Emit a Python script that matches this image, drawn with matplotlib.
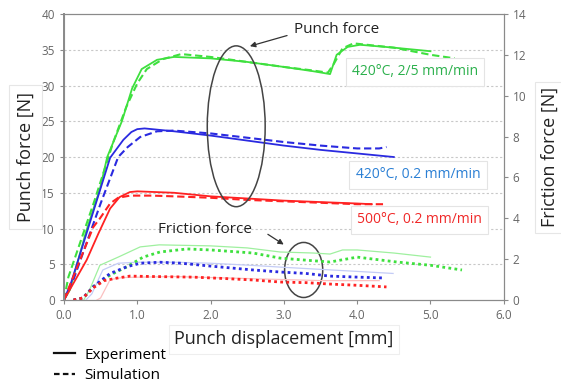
import matplotlib
matplotlib.use("Agg")
import matplotlib.pyplot as plt
from matplotlib.lines import Line2D
from matplotlib.patches import Ellipse

plt.rcParams["font.family"] = ["Open Sans", "DejaVu Sans"]

# punch force [N] vs displacement [mm] (left axis)
green_exp_x = [0, 0.08, 0.3, 0.49, 0.59, 0.79, 0.93, 1.06, 1.27, 1.5, 2.0, 2.5, 3.0, 3.4, 3.63, 3.72, 3.87, 4.04, 4.5, 5.0]
green_exp_y = [0, 1.4, 9.5, 15.5, 20, 25, 29.6, 32.3, 33.6, 34.0, 33.8, 33.3, 32.6, 32.0, 31.6, 34.3, 35.4, 35.7, 35.3, 34.8]
green_sim_x = [0, 0.06, 0.42, 0.67, 0.85, 1.0, 1.13, 1.35, 1.6, 2.0, 2.5, 3.0, 3.4, 3.6, 3.68, 3.8, 3.95, 4.5, 5.0, 5.33]
green_sim_y = [0, 3.2, 14, 22, 27, 30.3, 32.3, 33.7, 34.4, 34.0, 33.3, 32.6, 32.1, 31.8, 33.0, 35.2, 35.9, 35.3, 34.3, 33.8]

blue_exp_x = [0, 0.1, 0.49, 0.63, 0.81, 0.92, 1.0, 1.1, 1.5, 2.0, 2.5, 3.0, 3.5, 4.0, 4.5]
blue_exp_y = [0, 2.5, 15.3, 19.9, 22.4, 23.5, 23.9, 24.0, 23.6, 23.0, 22.3, 21.6, 21.0, 20.5, 20.0]
blue_sim_x = [0, 0.1, 0.5, 0.74, 0.87, 1.04, 1.27, 1.5, 2.0, 2.5, 3.0, 3.5, 4.0, 4.3, 4.4]
blue_sim_y = [0, 2.0, 13.5, 20, 21.4, 22.8, 23.6, 23.7, 23.3, 22.7, 22.1, 21.6, 21.2, 21.2, 21.4]

red_exp_x = [0, 0.31, 0.47, 0.63, 0.76, 0.9, 1.0, 1.5, 2.0, 2.5, 3.0, 3.5, 4.0, 4.2]
red_exp_y = [0, 5.6, 9.3, 12.8, 14.4, 15.1, 15.2, 15.0, 14.5, 14.2, 13.9, 13.7, 13.5, 13.4]
red_sim_x = [0, 0.4, 0.49, 0.63, 0.74, 0.9, 1.2, 1.5, 2.0, 2.5, 3.0, 3.5, 4.0, 4.38]
red_sim_y = [0, 10.2, 11.4, 13.5, 14.3, 14.6, 14.6, 14.5, 14.3, 14.0, 13.8, 13.6, 13.4, 13.4]

# friction force [N] (right axis)
green_fexp_x = [0.27, 0.35, 0.49, 0.74, 1.04, 1.3, 2.0, 2.5, 2.95, 3.4, 3.63, 3.8, 4.0, 4.5, 5.0]
green_fexp_y = [0, 0.5, 1.7, 2.1, 2.6, 2.7, 2.65, 2.55, 2.35, 2.3, 2.25, 2.45, 2.45, 2.3, 2.1]
green_fsim_x = [0.13, 0.26, 0.4, 0.63, 0.86, 1.08, 1.31, 1.68, 2.0, 2.58, 2.95, 3.3, 3.63, 4.0, 4.54, 5.0, 5.43]
green_fsim_y = [0, 0.1, 0.65, 1.22, 1.63, 2.1, 2.35, 2.5, 2.45, 2.3, 2.05, 1.95, 1.86, 2.1, 1.86, 1.7, 1.47]

blue_fexp_x = [0.3, 0.38, 0.53, 0.74, 1.0, 1.5, 2.0, 2.54, 3.0, 3.5, 4.0, 4.49]
blue_fexp_y = [0, 0.3, 1.47, 1.8, 1.85, 1.85, 1.8, 1.7, 1.6, 1.5, 1.4, 1.3]
blue_fsim_x = [0.13, 0.26, 0.4, 0.63, 0.86, 1.04, 1.31, 1.6, 2.0, 2.58, 2.95, 3.3, 3.63, 4.0, 4.35]
blue_fsim_y = [0, 0.1, 0.65, 1.3, 1.63, 1.8, 1.85, 1.8, 1.66, 1.47, 1.37, 1.3, 1.17, 1.12, 1.08]

red_fexp_x = [0.45, 0.5, 0.63, 0.8, 1.5, 2.0, 2.5, 3.0, 3.5, 4.0, 4.3]
red_fexp_y = [0, 0.1, 1.0, 1.1, 1.15, 1.1, 1.05, 1.0, 0.95, 0.95, 0.95]
red_fsim_x = [0.13, 0.26, 0.4, 0.55, 0.72, 0.9, 1.2, 1.76, 2.2, 2.58, 2.95, 3.3, 3.63, 4.0, 4.4]
red_fsim_y = [0, 0.1, 0.6, 0.95, 1.07, 1.17, 1.15, 1.12, 1.05, 0.98, 0.88, 0.85, 0.78, 0.72, 0.64]

GREEN, BLUE, RED = "#3ee03e", "#2a2ae0", "#ff2222"
dash = (0, (3.5, 1.8))
dot = (0, (1.0, 1.2))

fig = plt.figure(figsize=(5.61, 3.88), dpi=100)
ax = fig.add_axes([0.114, 0.2268, 0.784, 0.737])
ax2 = ax.twinx()

# punch force curves
ax.plot(green_exp_x, green_exp_y, color=GREEN, lw=1.3)
ax.plot(green_sim_x, green_sim_y, color=GREEN, lw=1.5, ls=dash)
ax.plot(blue_exp_x, blue_exp_y, color=BLUE, lw=1.3)
ax.plot(blue_sim_x, blue_sim_y, color=BLUE, lw=1.5, ls=dash)
ax.plot(red_exp_x, red_exp_y, color=RED, lw=1.3)
ax.plot(red_sim_x, red_sim_y, color=RED, lw=1.5, ls=dash)

# friction force curves
ax2.plot(green_fexp_x, green_fexp_y, color="#9ff09f", lw=0.9)
ax2.plot(blue_fexp_x, blue_fexp_y, color="#c4ccf6", lw=0.9)
ax2.plot(red_fexp_x, red_fexp_y, color="#fbc0c0", lw=0.9)
ax2.plot(green_fsim_x, green_fsim_y, color=GREEN, lw=2.0, ls=dot)
ax2.plot(blue_fsim_x, blue_fsim_y, color=BLUE, lw=2.0, ls=dot)
ax2.plot(red_fsim_x, red_fsim_y, color=RED, lw=2.0, ls=dot)

ax.set_xlim(0, 6)
ax.set_ylim(0, 40)
ax2.set_ylim(0, 14)
ax.set_xticks([0, 1, 2, 3, 4, 5, 6])
ax.set_xticklabels(["0.0", "1.0", "2.0", "3.0", "4.0", "5.0", "6.0"])
ax.set_yticks(range(0, 41, 5))
ax2.set_yticks(range(0, 15, 2))
for y in range(5, 40, 5):
    ax.axhline(y, color="#c8c8c8", lw=0.8, ls=(0, (2, 2)), zorder=0)

for a in (ax, ax2):
    for s in a.spines.values():
        s.set_color("#8a8a8a")
    a.tick_params(colors="#8a8a8a", labelcolor="#666666", labelsize=8.5, length=3)
ax.spines["left"].set_linewidth(1.4)

ax.set_xlabel("Punch displacement [mm]", fontsize=13, color="#222222", labelpad=6,
              bbox=dict(boxstyle="square,pad=0.3", fc="white", ec="#eeeeee", lw=0.8))
ax.set_ylabel("Punch force [N]", fontsize=13, color="#222222", labelpad=5,
              bbox=dict(boxstyle="square,pad=0.4", fc="white", ec="#e6e6e6", lw=0.8))
ax2.set_ylabel("Friction force [N]", fontsize=13, color="#222222", labelpad=10,
               bbox=dict(boxstyle="square,pad=0.3", fc="white", ec="#e6e6e6", lw=0.8))

# annotations
ax.add_patch(Ellipse((2.35, 24.3), 0.79, 22.5, fill=False, ec="#444444", lw=1.1, zorder=5))
ax.add_patch(Ellipse((3.27, 4.2), 0.52, 7.7, fill=False, ec="#444444", lw=1.1, zorder=5))
ax.annotate("", xy=(2.5, 35.4), xytext=(3.08, 37.1),
            arrowprops=dict(arrowstyle="-|>", color="#333333", lw=0.9, mutation_scale=8))
ax.text(3.14, 37.8, "Punch force", fontsize=11, color="#222222", va="center", ha="left")
ax.annotate("", xy=(3.03, 7.55), xytext=(2.75, 9.4),
            arrowprops=dict(arrowstyle="-|>", color="#333333", lw=0.9, mutation_scale=8))
ax.text(1.28, 9.8, "Friction force", fontsize=11, color="#222222", va="center", ha="left")

box = dict(boxstyle="square,pad=0.45", fc="white", ec="#e4e4e4", lw=0.8)
ax.text(3.93, 31.9, "420°C, 2/5 mm/min", fontsize=10, color="#2bb04c", va="center", bbox=box, zorder=6)
ax.text(3.98, 17.5, "420°C, 0.2 mm/min", fontsize=10, color="#2a7fd4", va="center", bbox=box, zorder=6)
ax.text(4.0, 11.2, "500°C, 0.2 mm/min", fontsize=10, color="#f02828", va="center", bbox=box, zorder=6)

# legend
handles = [Line2D([], [], color="#111111", lw=1.6),
           Line2D([], [], color="#111111", lw=1.6, ls=(0, (2.5, 1.5)))]
fig.legend(handles, ["Experiment", "Simulation"], loc="upper left",
           bbox_to_anchor=(0.085, 0.12), frameon=False, fontsize=11,
           handlelength=1.4, handletextpad=0.6, labelspacing=0.35, borderaxespad=0)

fig.savefig("out.png", dpi=100)
